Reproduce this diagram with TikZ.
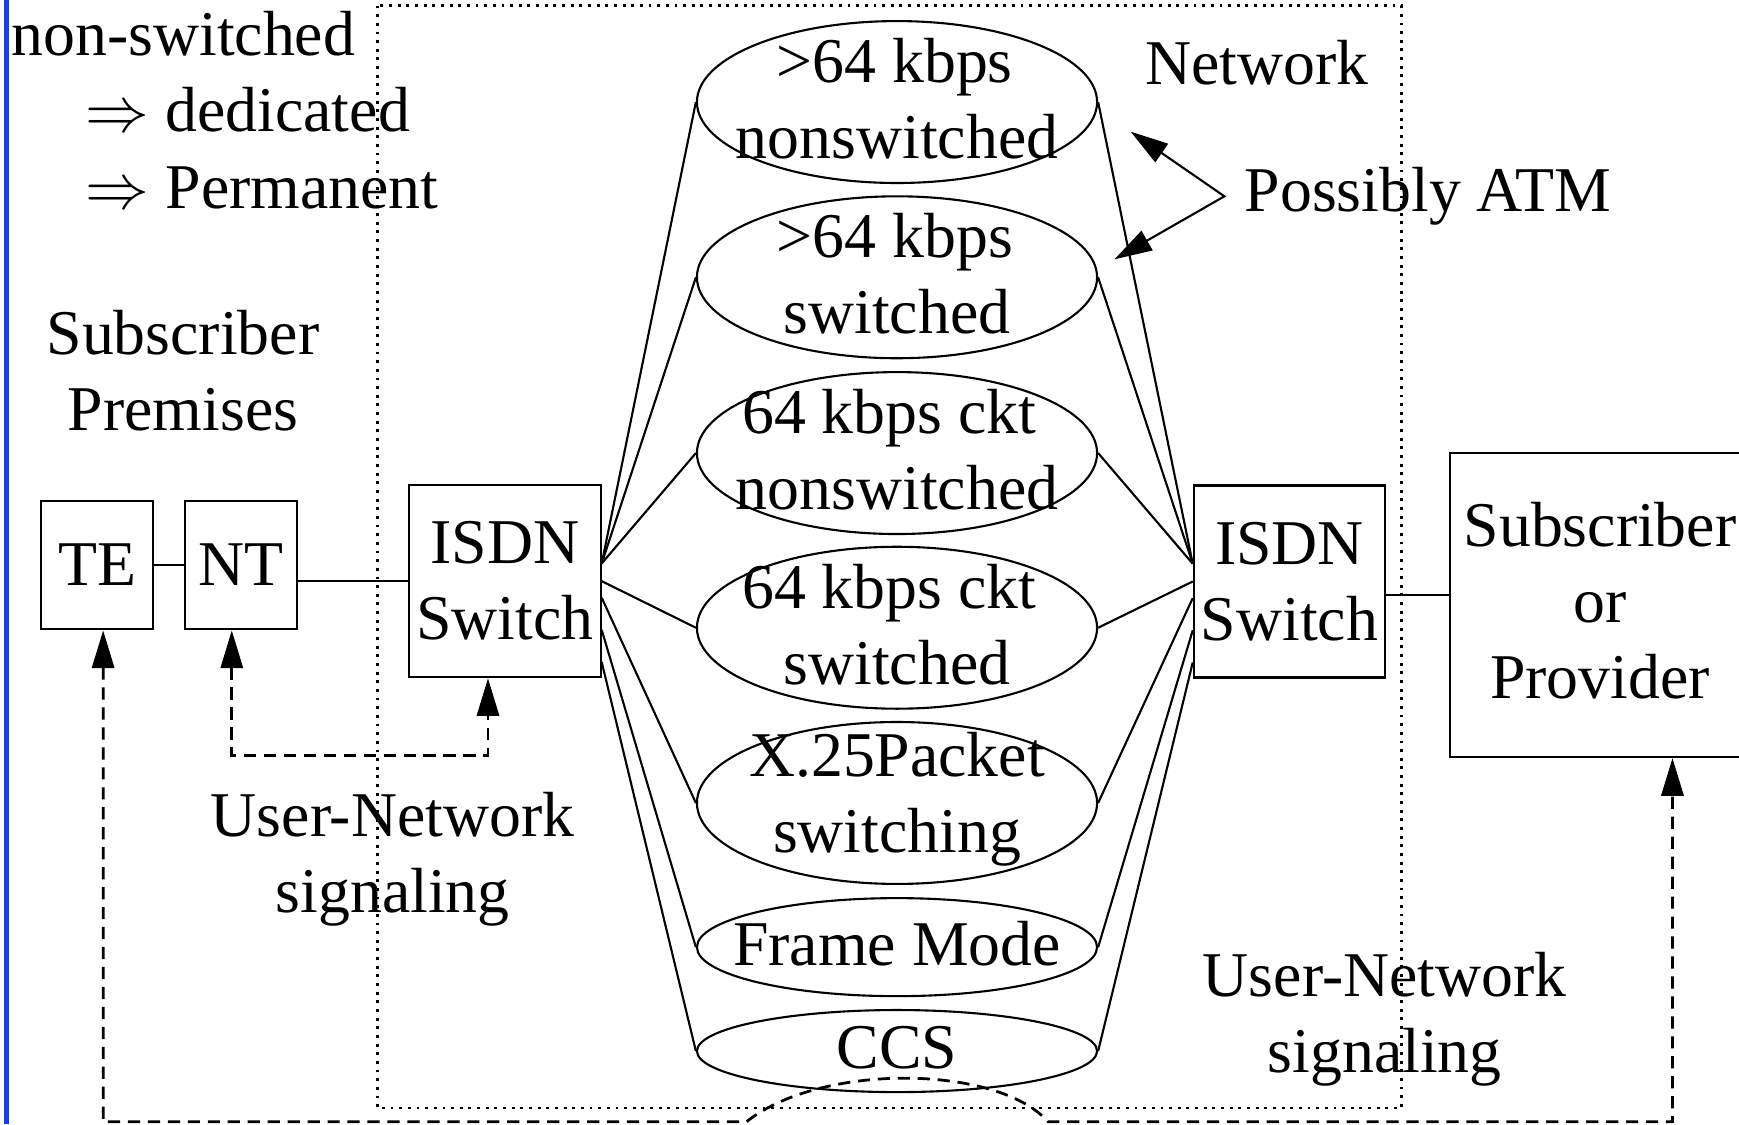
\documentclass[tikz,border=0pt]{standalone}
\usepackage{fontspec}
\setmainfont{Liberation Serif}
\usetikzlibrary{arrows.meta,shapes.geometric,calc}
\definecolor{bluebar}{RGB}{20,60,240}
\newcommand\myimp{\scalebox{2.875}{\fontsize{10}{12}\selectfont$\Rightarrow$}}
\begin{document}
\begin{tikzpicture}[x=0.5pt,y=-0.5pt,
  txt/.style={font=\fontsize{28.75}{34.25}\selectfont, inner sep=0pt, align=center},
  box/.style={draw, line width=0.95pt, inner sep=0pt},
  ell/.style={draw, ellipse, line width=0.95pt, inner sep=0pt, minimum width=180.4pt},
  wire/.style={line width=0.95pt},
  sig/.style={line width=1.25pt, dash pattern=on 5.5pt off 3.5pt},
  dots/.style={line width=1.3pt, dash pattern=on 1.3pt off 2.6pt},
  >={Triangle[length=17pt,width=10pt]}]
\useasboundingbox (0,0) rectangle (1568,1013.5);
\clip (0,0) rectangle (1568,1013.5);
% blue bar
\draw[bluebar, line width=2.25pt] (5.9,0) -- (5.9,1013.5);
% network dotted frame
\draw[dots] (340,5) rectangle (1263.7,999);
% left notes
\node[txt, anchor=base west] (ns) at (10,50) {non-switched};
\node[txt, anchor=base west] (ded) at (77,119) {\myimp{} dedicated};
\node[txt, anchor=base west] (perm) at (77,188) {\myimp{} Permanent};
\node[txt] (prem) at (165,334.5) {Subscriber\\Premises};
\node[txt, anchor=base west] (net) at (1032,76) {Network};
\node[txt, anchor=base west] (atm) at (1122,191) {Possibly ATM};
% boxes
\node[box, txt, draw, line width=0.95pt, minimum width=50.5pt, minimum height=58pt] (TE) at (87.5,509.5) {TE};
\node[box, txt, draw, line width=0.95pt, minimum width=50.5pt, minimum height=58pt] (NT) at (217.4,509.5) {NT};
\node[box, txt, draw, line width=0.95pt, minimum width=86.3pt, minimum height=86.6pt] (swL) at (455.3,524) {ISDN\\Switch};
\node[box, txt, draw, line width=0.95pt, minimum width=86.3pt, minimum height=86.6pt] (swR) at (1162.7,524.3) {ISDN\\Switch};
\node[box, minimum width=135.25pt, minimum height=136.9pt] (sub) at (1442.7,545.7) {};
\node[txt] (subt) at (1442.7,541.3) {Subscriber\\or\\Provider};
% channel ellipses
\node[ell, minimum height=73pt] (e1) at (808.8,92) {};
\node[ell, minimum height=73pt] (e2) at (808.8,250) {};
\node[ell, minimum height=73pt] (e3) at (808.8,408.5) {};
\node[ell, minimum height=73pt] (e4) at (808.8,566) {};
\node[ell, minimum height=73pt] (e5) at (808.8,724) {};
\node[ell, minimum height=44.2pt] (e6) at (808.8,854) {};
\node[ell, minimum height=37pt] (e7) at (808.8,947.7) {};
\node[txt] (t1) at ([yshift=1.5pt]e1.center) {>64 kbps\kern2pt\\nonswitched};
\node[txt] (t2) at ([yshift=1.5pt]e2.center) {>64 kbps\kern2pt\\switched};
\node[txt] (t3) at ([yshift=1.5pt]e3.center) {64 kbps ckt\kern7pt\\nonswitched};
\node[txt] (t4) at ([yshift=1.5pt]e4.center) {64 kbps ckt\kern7pt\\switched};
\node[txt] (t5) at ([yshift=1.5pt]e5.center) {X.25Packet\\switching};
\node[txt] (t6) at ([yshift=1.5pt]e6.center) {Frame Mode};
\node[txt] (t7) at ([yshift=1.5pt]e7.center) {CCS};
% links
\foreach \e/\o in {e1/8,e2/8,e3/8,e4/0,e5/-7.5,e6/-22,e7/-36.5} {
  \draw[wire] ([yshift=\o pt]swL.east) -- (\e.west);
  \draw[wire] ([yshift=\o pt]swR.west) -- (\e.east);
}
\draw[wire] (TE) -- (NT);
\draw[wire] (swL.west) -- (swL.west -| NT.east);
\draw[wire] ([yshift=-6.25pt]swR.east) -- ([yshift=-6.25pt]swR.east -| sub.west);
% possibly ATM arrows
\coordinate (apex) at (1104,177);
\coordinate (atm1) at (1019.5,118.7);
\coordinate (atm2) at (1004.8,233.8);
\draw[wire, <->] (atm1) -- (apex) -- (atm2);
% user-network signalling
\node[txt] (un1) at (354,775) {User-Network\\signaling};
\node[txt] (un2) at (1248.5,919) {User-Network\\signaling};
\coordinate (ntA) at ([xshift=-4.2pt]NT.south);
\coordinate (swA) at ([xshift=-7.65pt]swL.south);
\coordinate (loop) at (0,681);
\draw[sig, <->] (ntA) -- (ntA |- loop) -- (swA |- loop) -- (swA);
\coordinate (teA) at ([xshift=2.75pt]TE.south);
\coordinate (subA) at ([xshift=32.65pt]sub.south);
\coordinate (bot) at (0,1011.5);
\coordinate (arcL) at (673,1011.5);
\coordinate (arcR) at (945,1011.5);
\draw[sig, <->] (teA) -- (teA |- bot) -- (arcL) .. controls (740,958) and (900,960) .. (arcR) -- (subA |- bot) -- (subA);
\end{tikzpicture}
\end{document}
